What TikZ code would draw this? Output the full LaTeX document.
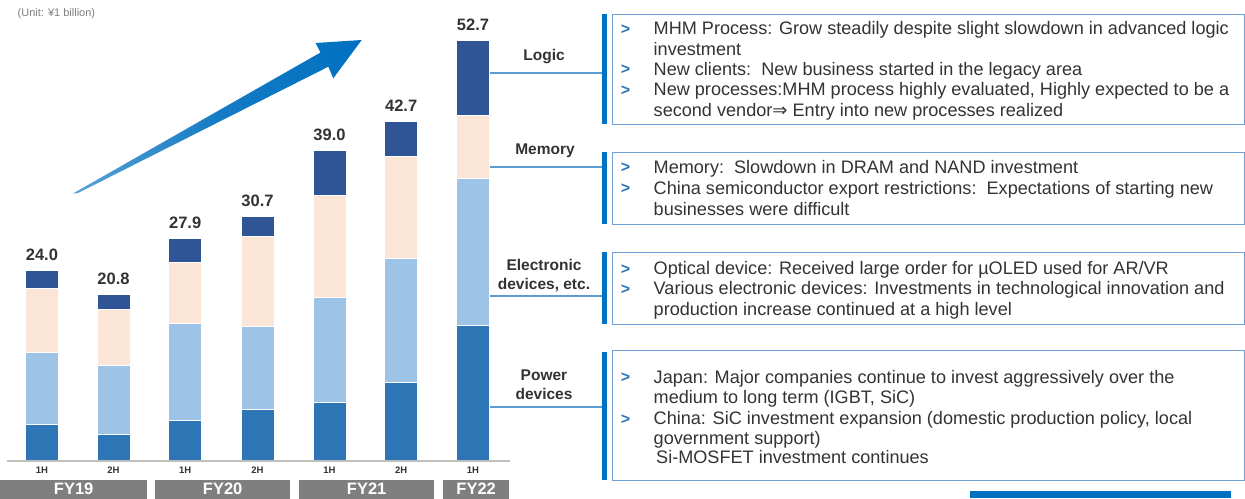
\documentclass[tikz,border=0pt]{standalone}
\usepackage{fontspec}
\setmainfont{Liberation Sans}
\newfontfamily\symfont{DejaVu Sans}
\usetikzlibrary{fit}
\definecolor{logicc}{HTML}{2F5597}
\definecolor{memoryc}{HTML}{FBE5D6}
\definecolor{elecc}{HTML}{9DC3E6}
\definecolor{powerc}{HTML}{2E75B6}
\definecolor{txt}{HTML}{333333}
\definecolor{fyc}{HTML}{7F7F7F}
\definecolor{accent}{HTML}{0070C0}
\definecolor{linec}{HTML}{5B9BD5}
\definecolor{boxc}{HTML}{6F9FD3}
\definecolor{axisc}{HTML}{BFBFBF}
\begin{document}
\begin{tikzpicture}[x=1pt,y=-1pt,
  seg/.style={draw=white,line width=0.8pt},
  vallabel/.style={font=\bfseries\fontsize{16.5}{18}\selectfont,text=txt,anchor=center,inner sep=0},
  halflabel/.style={font=\bfseries\fontsize{9.5}{10}\selectfont,text=txt,anchor=center,inner sep=0},
  fybox/.style={fill=fyc,text=white,font=\bfseries\fontsize{16.5}{18}\selectfont,inner sep=0,anchor=north west},
  catlabel/.style={font=\bfseries\fontsize{15.5}{19}\selectfont,text=txt,align=center,inner sep=0,anchor=center},
  conn/.style={draw=linec,line width=1.1pt},
  vbar/.style={fill=accent,minimum width=5.5pt,inner sep=0,anchor=north},
  infobox/.style={draw=boxc,line width=1pt,inner sep=0},
  bt/.style={font=\fontsize{18.1}{20}\selectfont,text=txt,anchor=base west,inner sep=0},
  chev/.style={font=\bfseries\fontsize{16}{16}\selectfont,text=powerc,anchor=base,inner sep=0}
]
\useasboundingbox (0,0) rectangle (1245,498);
\fill[white] (0,0) rectangle (1245,498);

% unit
\node[font=\fontsize{11}{12}\selectfont,text=fyc,anchor=west,inner sep=0] (unit) at (17.5,14) {(Unit: ¥1 billion)};

% growth arrow
\shade[left color=accent!65,right color=accent,middle color=accent!92] (73,193.5) -- (320.5,52.5) -- (315.5,43) -- (361.7,40) -- (333.3,78.3) -- (328.3,66.7) -- (78,193) -- cycle;

% bars
\foreach \i/\x/\t/\a/\b/\c/\v/\h in {
 1/25.4/270.7/288.3/352/424.7/24.0/1H,
 2/97/294/309/365.7/434/20.8/2H,
 3/168.7/238.7/262.3/323.3/420/27.9/1H,
 4/241/216.7/236.7/326.7/409/30.7/2H,
 5/313/150/195.7/297/402.7/39.0/1H,
 6/384.7/121.7/156/258.7/382.7/42.7/2H,
 7/456.5/40.7/115.7/178.3/325.7/52.7/1H}{
  \filldraw[seg,fill=logicc] (\x,\t) rectangle (\x+33,\a);
  \filldraw[seg,fill=memoryc] (\x,\a) rectangle (\x+33,\b);
  \filldraw[seg,fill=elecc] (\x,\b) rectangle (\x+33,\c);
  \filldraw[seg,fill=powerc] (\x,\c) rectangle (\x+33,461);
  \node[vallabel] (val\i) at (\x+16.5,\t-15.5) {\v};
  \node[halflabel] (half\i) at (\x+16.5,470.5) {\h};
  \coordinate (bar\i) at (\x+33,\t);
}
\draw[draw=axisc,line width=1.5pt] (7,461) -- (510,461);

% FY boxes
\node[fybox,minimum width=147pt,minimum height=19pt] (fy19) at (0,479.5) {FY19};
\node[fybox,minimum width=135pt,minimum height=19pt] (fy20) at (155,479.5) {FY20};
\node[fybox,minimum width=135pt,minimum height=19pt] (fy21) at (299,479.5) {FY21};
\node[fybox,minimum width=66pt,minimum height=19pt] (fy22) at (443,479.5) {FY22};

% category labels
\node[catlabel] (cLogic) at (544,57) {Logic};
\node[catlabel] (cMem) at (545,151) {Memory};
\node[catlabel] (cElec) at (544,275.5) {Electronic\\devices, etc.};
\node[catlabel] (cPow) at (544,384.5) {Power\\devices};

% vertical accent bars
\node[vbar,minimum height=110pt] (vl) at (604.6,14) {};
\node[vbar,minimum height=72pt] (vm) at (604.6,152) {};
\node[vbar,minimum height=72pt] (ve) at (604.6,252) {};
\node[vbar,minimum height=128pt] (vp) at (604.6,352) {};

% connectors
\coordinate (kl) at (490,73);
\coordinate (km) at (490,167);
\coordinate (ke) at (490,296);
\coordinate (kp) at (490,407);
\draw[conn] (kl) -- (kl -| vl.west);
\draw[conn] (km) -- (km -| vm.west);
\draw[conn] (ke) -- (ke -| ve.west);
\draw[conn] (kp) -- (kp -| vp.west);

% info boxes
\node[infobox,fit={(612,14) (1244,124)}] (bl) {};
\node[infobox,fit={(612,152) (1244,224)}] (bm) {};
\node[infobox,fit={(612,252.3) (1244,324)}] (be) {};
\node[infobox,fit={(612,350.7) (1244,480.7)}] (bp) {};

% logic text
\node[chev] (cl1) at (625.5,34.3) {>};
\node[chev] (cl2) at (625.5,74.7) {>};
\node[chev] (cl3) at (625.5,95.1) {>};
\node[bt] (tl1) at (653.5,34.6) {MHM Process: Grow steadily despite slight slowdown in advanced logic};
\node[bt] (tl2) at (653.5,55) {investment};
\node[bt] (tl3) at (653.5,75.4) {New clients:\ \ New business started in the legacy area};
\node[bt] (tl4) at (653.5,95.8) {New processes:MHM process highly evaluated, Highly expected to be a};
\node[bt] (tl5) at (653.5,116.2) {second vendor{\symfont ⇒} Entry into new processes realized};

% memory text
\node[chev] (cm1) at (625.5,172.5) {>};
\node[chev] (cm2) at (625.5,193.5) {>};
\node[bt] (tm1) at (653.5,173) {Memory:\ \ Slowdown in DRAM and NAND investment};
\node[bt] (tm2) at (653.5,194) {China semiconductor export restrictions:\ \ Expectations of starting new};
\node[bt] (tm3) at (653.5,215) {businesses were difficult};

% electronic text
\node[chev] (ce1) at (625.5,274) {>};
\node[chev] (ce2) at (625.5,294) {>};
\node[bt] (te1) at (653.5,274.6) {Optical\ device: Received large order for µOLED used for AR/VR};
\node[bt] (te2) at (653.5,294.6) {Various electronic devices: Investments in technological innovation and};
\node[bt] (te3) at (653.5,315.2) {production increase continued at a high level};

% power text
\node[chev] (cp1) at (625.5,382.5) {>};
\node[chev] (cp2) at (625.5,424) {>};
\node[bt] (tp1) at (653.5,383) {Japan: Major companies continue to invest aggressively over the};
\node[bt] (tp2) at (653.5,403) {medium to long term (IGBT, SiC)};
\node[bt] (tp3) at (653.5,424.6) {China: SiC investment expansion (domestic production policy, local};
\node[bt] (tp4) at (653.5,444.6) {government support)};
\node[bt] (tp5) at (656,463) {Si-MOSFET investment continues};

% bottom right accent
\fill[accent] (970,490.7) rectangle (1231,498);
\end{tikzpicture}
\end{document}
